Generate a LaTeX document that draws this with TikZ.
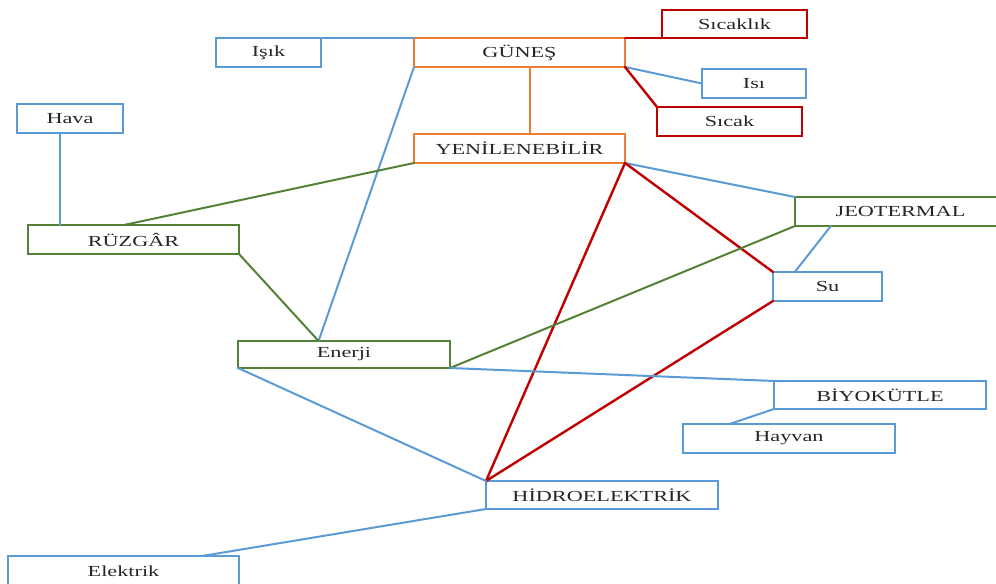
\documentclass[tikz,border=0pt]{standalone}
\usepackage{fontspec}
\setmainfont[FakeStretch=1.45]{Liberation Serif}
\usetikzlibrary{calc}
\definecolor{cblue}{HTML}{5B9BD5}
\definecolor{corange}{HTML}{ED7D31}
\definecolor{cgreen}{HTML}{538135}
\definecolor{cred}{HTML}{C00000}
\newcommand\mkbox[7]{\node[box=#2,minimum width={(#5-#3)*0.75pt},minimum height={(#6-#4)*0.75pt}] (#1) at ({(#3+#5)/2},{(#4+#6)/2}) {#7};}
\begin{document}
\begin{tikzpicture}[x=0.75pt,y=-0.75pt,
  box/.style={draw=#1,line width=1.7pt,outer sep=0pt,inner sep=0pt,text=black!85,font=\fontsize{11.5}{13}\selectfont},
  conn/.style={draw=#1,line width=1.5pt,line cap=round},
  connr/.style={draw=cred,line width=1.8pt,line cap=round}]
\useasboundingbox (0,0) rectangle (996,584);
\clip (0,0) rectangle (996,584);
\mkbox{sicaklik}{cred}{662}{10}{807}{38}{Sıcaklık}
\mkbox{isik}{cblue}{216}{38}{321}{67}{Işık}
\mkbox{gunes}{corange}{414}{38}{625}{67}{GÜNEŞ}
\mkbox{isi}{cblue}{702}{69}{806}{98}{Isı}
\mkbox{sicak}{cred}{657}{107}{802}{136}{Sıcak}
\mkbox{hava}{cblue}{17}{104}{123}{133}{Hava}
\mkbox{yen}{corange}{414}{134}{625}{163}{YENİLENEBİLİR}
\mkbox{ruzgar}{cgreen}{28}{225}{239}{254}{RÜZGÂR}
\mkbox{jeo}{cgreen}{795}{197}{1006}{226}{JEOTERMAL}
\mkbox{su}{cblue}{773}{272}{882}{301}{Su}
\mkbox{enerji}{cgreen}{238}{341}{450}{368}{Enerji}
\mkbox{biyo}{cblue}{774}{381}{986}{409}{BİYOKÜTLE}
\mkbox{hayvan}{cblue}{683}{424}{895}{453}{Hayvan}
\mkbox{hidro}{cblue}{486}{481}{718}{509}{HİDROELEKTRİK}
\mkbox{elektrik}{cblue}{8}{556}{239}{586}{Elektrik}
\coordinate (enerjitop) at ($(enerji.north west)!0.38!(enerji.north east)$);
\coordinate (g1) at ($(gunes.south west)!0.55!(gunes.south east)$);
\coordinate (havab) at ($(hava.south west)!0.405!(hava.south east)$);
\draw[conn=cblue] (isik.north east) -- (gunes.north west);
\draw[connr] (gunes.north east) -- (sicaklik.south west);
\draw[conn=cblue] (gunes.south east) -- (isi.west);
\draw[connr] (gunes.south east) -- (sicak.north west);
\draw[conn=corange] (g1) -- (g1 |- yen.north);
\draw[conn=cblue] (gunes.south west) -- (enerjitop);
\draw[conn=cblue, line width=1.8pt] (havab) -- (havab |- ruzgar.north);
\draw[conn=cgreen] (yen.south west) -- ($(ruzgar.north west)!0.455!(ruzgar.north east)$);
\draw[conn=cgreen] (ruzgar.south east) -- (enerjitop);
\draw[conn=cblue] (yen.south east) -- (jeo.north west);
\draw[connr] (yen.south east) -- (su.north west);
\draw[connr] (yen.south east) -- (hidro.north west);
\draw[connr] (su.south west) -- (hidro.north west);
\draw[conn=cblue] ($(jeo.south west)!0.17!(jeo.south east)$) -- ($(su.north west)!0.2!(su.north east)$);
\draw[conn=cgreen] (jeo.south west) -- (enerji.south east);
\draw[conn=cblue] (enerji.south east) -- (biyo.north west);
\draw[conn=cblue] (biyo.south west) -- ($(hayvan.north west)!0.22!(hayvan.north east)$);
\draw[conn=cblue] (enerji.south west) -- (hidro.north west);
\draw[conn=cblue] (hidro.south west) -- ($(elektrik.north west)!0.84!(elektrik.north east)$);
\end{tikzpicture}
\end{document}
